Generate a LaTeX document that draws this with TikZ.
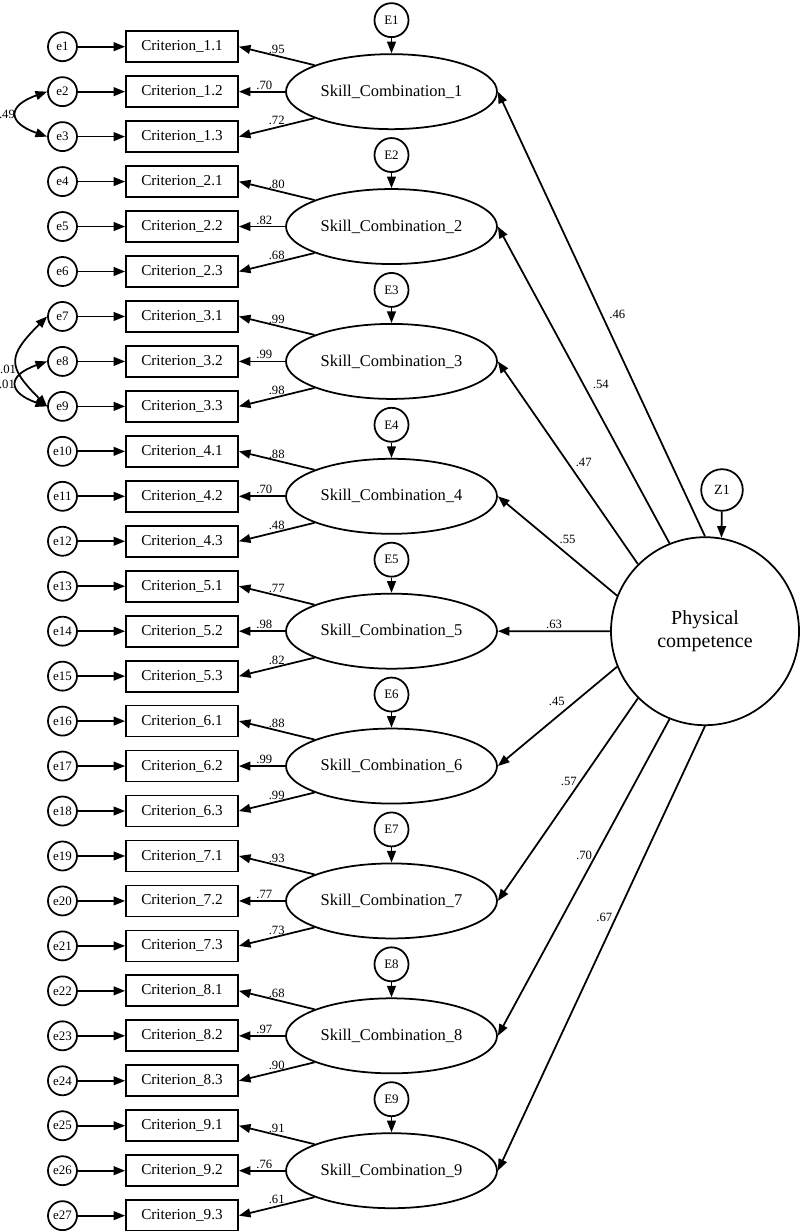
\documentclass[tikz,border=0pt]{standalone}
\usepackage{fontspec}
\setmainfont{Liberation Serif}
\usetikzlibrary{shapes.geometric,arrows.meta}
\begin{document}
\begin{tikzpicture}[
  errnode/.style={circle, draw, line width=1.25pt, minimum size=0.725cm, inner sep=0pt, font=\fontsize{9.2}{10}\selectfont},
  critbox/.style={rectangle, draw, line width=1.25pt, minimum width=2.8cm, minimum height=0.775cm, inner sep=0pt, font=\fontsize{10.8}{12}\selectfont},
  skillnode/.style={ellipse, draw, line width=1.25pt, minimum width=5.275cm, minimum height=1.875cm, inner sep=0pt, font=\fontsize{11.7}{13}\selectfont},
  resnode/.style={circle, draw, line width=1.25pt, minimum size=0.85cm, inner sep=0pt, font=\fontsize{9.2}{10}\selectfont},
  arr/.style={-{Triangle[length=2.9mm,width=2.2mm]}, line width=1.25pt},
  covarr/.style={{Triangle[length=2.9mm,width=2.2mm]}-{Triangle[length=2.9mm,width=2.2mm]}, line width=1.25pt},
  coef/.style={font=\fontsize{9}{10}\selectfont, inner sep=1pt}
]
\useasboundingbox (0,0) rectangle (20,-30.775);

\node[circle, draw, line width=1.25pt, minimum size=4.7cm, align=center, font=\fontsize{14.2}{17}\selectfont] (pc) at (17.625,-15.78) {Physical\\competence};
\node[resnode, minimum size=1.04cm, font=\fontsize{10}{12}\selectfont] (Z1) at (18.05,-12.25) {Z1};
\draw[arr] (Z1) -- (pc.80);

\foreach \k/\la/\lb/\lc in {1/.95/.70/.72, 2/.80/.82/.68, 3/.99/.99/.98, 4/.88/.70/.48, 5/.77/.98/.82, 6/.88/.99/.99, 7/.93/.77/.73, 8/.68/.97/.90, 9/.91/.76/.61} {
  \pgfmathsetmacro\ym{-1.1675-(3*\k-2)*1.124}
  \node[skillnode] (s\k) at (9.7875,\ym) {Skill\_Combination\_\k};
  \node[resnode] (E\k) at (9.7875,\ym+1.7875) {E\k};
  \draw[arr] (E\k) -- (s\k);
  \foreach \j in {1,2,3} {
    \pgfmathtruncatemacro\idx{3*(\k-1)+\j}
    \pgfmathsetmacro\yr{-1.1675-(\idx-1)*1.124}
    \node[errnode] (e\idx) at (1.5625,\yr) {e\idx};
    \node[critbox] (c\k\j) at (4.55,\yr) {Criterion\_\k.\j};
    \draw[arr] (e\idx) -- (c\k\j);
  }
  \draw[arr] (s\k.161) -- node[coef, above] {\la} (c\k1.east);
  \draw[arr] (s\k.west) -- node[coef, above, pos=0.45] {\lb} (c\k2.east);
  \draw[arr] (s\k.199) -- node[coef, above] {\lc} (c\k3.east);
}

\draw[arr] (pc.90) -- node[coef, pos=0.5, right=4pt] {.46} (s1.east);
\draw[arr] (pc.112) -- node[coef, pos=0.5, right=5pt] {.54} (s2.east);
\draw[arr] (pc.135) -- node[coef, pos=0.5, right=4pt] {.47} (s3.east);
\draw[arr] (pc.158) -- node[coef, pos=0.5, above right=0pt] {.55} (s4.east);
\draw[arr] (pc.180) -- node[coef, pos=0.5, above] {.63} (s5.east);
\draw[arr] (pc.202) -- node[coef, pos=0.42, above left=0pt] {.45} (s6.east);
\draw[arr] (pc.225) -- node[coef, pos=0.41, left=1pt] {.57} (s7.east);
\draw[arr] (pc.248) -- node[coef, pos=0.43, left=1pt] {.70} (s8.east);
\draw[arr] (pc.270) -- node[coef, pos=0.43, left=1pt] {.67} (s9.east);

\draw[covarr] (e2.west) .. controls +(-1.0,-0.35) and +(-1.0,0.35) .. node[coef, left] {.49} (e3.west);
\draw[covarr] (e7.west) .. controls +(-1.0,-1.0) and +(-1.0,1.0) .. node[coef, pos=0.6, left] {.01} (e9.west);
\draw[covarr] (e8.west) .. controls +(-1.0,-0.35) and +(-1.0,0.35) .. node[coef, left] {.01} (e9.west);
\end{tikzpicture}
\end{document}
